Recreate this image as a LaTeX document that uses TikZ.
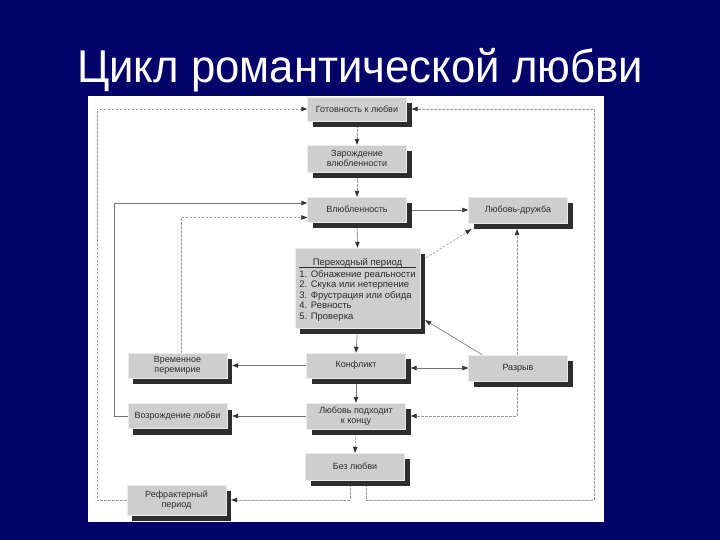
\documentclass[tikz,border=0pt]{standalone}
\usepackage{fontspec}
\setmainfont{Liberation Sans}
\usetikzlibrary{arrows.meta,shadows,calc}
\definecolor{navy}{RGB}{3,3,105}
\definecolor{boxgray}{RGB}{206,206,206}
\definecolor{shadowgray}{RGB}{45,45,45}
\definecolor{txtgray}{RGB}{45,45,45}
\pgfdeclarelayer{bg}\pgfdeclarelayer{conn}\pgfsetlayers{bg,conn,main}
\tikzset{
  stagebox/.style={draw=black!8, line width=0.4pt, fill=boxgray, text=txtgray,
    font=\fontsize{9}{10}\selectfont, align=center, minimum width=99pt,
    minimum height=25pt, inner sep=1pt,
    drop shadow={shadow xshift=5pt, shadow yshift=-6pt, fill=shadowgray, opacity=1, draw=none}},
  tip/.tip={Triangle[length=6pt,width=4.5pt,color=black!80,fill=black!80]},
  solidline/.style={draw=black!55, line width=0.6pt, -tip},
  twoway/.style={draw=black!55, line width=0.6pt, tip-tip},
  dashline/.style={solidline, draw=black!40, dash pattern=on 2.5pt off 1.5pt},
}
\begin{document}
\begin{tikzpicture}[x=1pt,y=-1pt]
\useasboundingbox (0,0) rectangle (720,540);
\begin{pgfonlayer}{bg}
  \fill[navy] (0,0) rectangle (720,540);
  \fill[white] (88,96) rectangle (604,522);
\end{pgfonlayer}
\node[font=\fontsize{46}{50}\selectfont, text=white, anchor=base, inner sep=0pt, xscale=0.95] (title) at (360,83) {Цикл романтической любви};

\node[stagebox, minimum height=24pt] (gotov) at (357,109) {Готовность к любви};
\node[stagebox, minimum height=27pt] (zarozh) at (357,158.5) {Зарождение\\влюбленности};
\node[stagebox] (vlub) at (357,209.5) {Влюбленность};
\node[stagebox, minimum height=26pt] (druzh) at (518,210) {Любовь-дружба};
\node[stagebox, minimum width=125pt, minimum height=80pt,
  font=\fontsize{9.5}{10.5}\selectfont] (perehod) at (357.5,288)
  {\begin{tabular}{@{}l@{}}\noalign{\vspace{4pt}}\multicolumn{1}{@{}c@{}}{Переходный период}\\[-1pt]\hline\noalign{\vspace{2pt}}
   1. Обнажение реальности\\ 2. Скука или нетерпение\\ 3. Фрустрация или обида\\
   4. Ревность\\ 5. Проверка\end{tabular}};
\node[stagebox] (vremen) at (177.5,365.5) {Временное\\перемирие};
\node[stagebox] (konfl) at (356,365.5) {Конфликт};
\node[stagebox, minimum height=26pt] (razryv) at (518,368) {Разрыв};
\node[stagebox] (vozrozh) at (177.5,416) {Возрождение любви};
\node[stagebox, minimum height=26pt] (konec) at (356,416) {Любовь подходит\\к концу};
\node[stagebox, minimum height=27pt] (bez) at (355,466.5) {Без любви};
\node[stagebox, minimum height=30pt] (refrakt) at (176.5,500) {Рефрактерный\\период};

\begin{pgfonlayer}{conn}
  % main vertical chain
  \draw[dashline] (gotov.south) -- (zarozh.north);
  \draw[dashline] (zarozh.south) -- (vlub.north);
  \draw[solidline] (vlub.south) -- (perehod.north);
  \draw[solidline] (perehod.south) -- (konfl.north);
  \draw[solidline] (konfl.south) -- (konec.north);
  \draw[dashline] (konec.south) -- (bez.north);
  % outer loops
  \draw[dashline] (refrakt.west) -- ++(-30,0) |- (gotov.west);
  \draw[dashline] ([xshift=11pt]bez.south) |- (594,500) |- ([xshift=5pt]gotov.east);
  \draw[dashline] ([xshift=-5pt]bez.south) |- ([xshift=5pt]refrakt.east);
  % right side
  \draw[solidline] (vlub.east |- druzh.west) -- (druzh.west);
  \draw[dashline] ([xshift=6pt,yshift=-10pt]perehod.north east) -- ([xshift=3pt,yshift=-6pt]druzh.south west);
  \draw[solidline] ([xshift=14pt]razryv.north west) -- ([xshift=5pt,yshift=8pt]perehod.south east);
  \draw[dashline] ([xshift=-1pt]razryv.north) -- ([xshift=-1pt,yshift=-6pt]druzh.south);
  \draw[dashline] ([xshift=-1pt]razryv.south) |- ([xshift=5pt]konec.east);
  \draw[twoway] ($(konfl.east |- razryv.west)+(5,0)$) -- (razryv.west);
  % left side
  \draw[solidline] (konfl.west) -- ([xshift=5pt]vremen.east);
  \draw[solidline] (konec.west) -- ([xshift=5pt]vozrozh.east);
  \draw[solidline] (vozrozh.west) -- ++(-13.5,0) |- ([yshift=6.5pt]vlub.west);
  \draw[dashline] ([xshift=3.5pt]vremen.north) |- ([yshift=-8pt]vlub.west);
\end{pgfonlayer}
\end{tikzpicture}
\end{document}
